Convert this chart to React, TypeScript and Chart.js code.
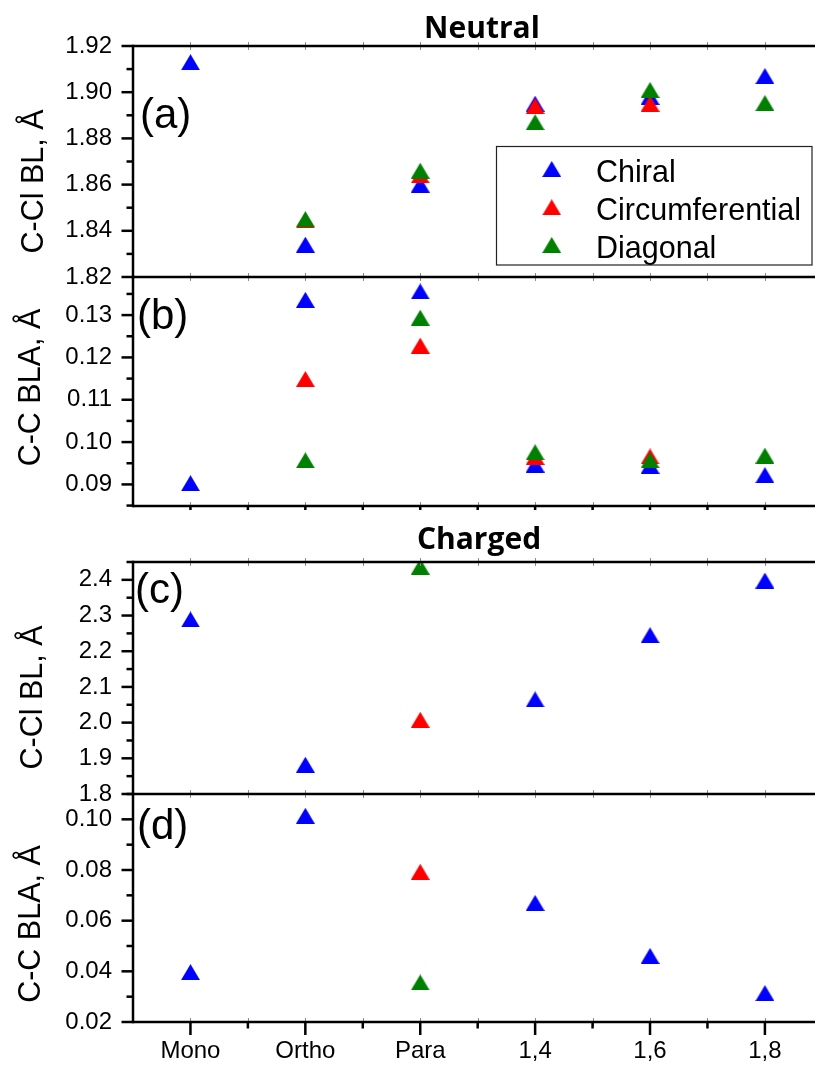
import React, { useEffect, useRef } from 'react';
import { Chart, registerables } from 'chart.js';

Chart.register(...registerables);

const FONT = '"Liberation Sans", Arial, Helvetica, sans-serif';
const TITLE_FONT = '"Open Sans", "Noto Sans", sans-serif';

// ---------- data ----------
const categories = ['Mono', 'Ortho', 'Para', '1,4', '1,6', '1,8'];
const seriesNames = ['Chiral', 'Circumferential', 'Diagonal'];

// (a) Neutral, C-Cl BL (Å)
const aChiral = [1.913, 1.834, 1.860, 1.895, 1.898, 1.907];
const aCircum = [null, 1.8445, 1.864, 1.894, 1.895, null];
const aDiag = [null, 1.845, 1.866, 1.887, 1.901, 1.8953];

// (b) Neutral, C-C BLA (Å)
const bChiral = [0.0903, 0.1336, 0.1356, 0.0947, 0.0944, 0.0922];
const bCircum = [null, 0.1149, 0.1228, 0.0965, 0.0966, null];
const bDiag = [null, 0.0957, 0.1294, 0.0976, 0.0957, 0.0968];

// (c) Charged, C-Cl BL (Å)
const cChiral = [2.289, 1.882, null, 2.065, 2.245, 2.398];
const cCircum = [null, null, 2.008, null, null, null];
const cDiag = [null, null, 2.437, null, null, null];

// (d) Charged, C-C BLA (Å)
const dChiral = [0.0397, 0.1014, null, 0.067, 0.0461, 0.0314];
const dCircum = [null, null, 0.0793, null, null, null];
const dDiag = [null, null, 0.0356, null, null, null];

// tick labels
const aTicks = [1.82, 1.84, 1.86, 1.88, 1.9, 1.92];
const bTicks = [0.09, 0.1, 0.11, 0.12, 0.13];
const cTicks = [1.8, 1.9, 2.0, 2.1, 2.2, 2.3, 2.4];
const dTicks = [0.02, 0.04, 0.06, 0.08, 0.1];

// ---------- styles / layout ----------
const seriesColors = ['#0000FF', '#FF0000', '#008000'];
const seriesOrder = [3, 2, 1];
const W = 815;
const H = 1066;
const X_MIN = -0.5;
const X_MAX = 5.436;

type Panel = {
  id: string;
  series: (number | null)[][];
  yMin: number;
  yMax: number;
  majors: number[];
  decimals: number;
  top: number;
  bottom: number;
  label: string;
  labelX: number;
  labelY: number;
  yTitle: string;
  titleX: number;
  titleY: number;
  bottomLine: boolean;
  bottomSmallTicks: boolean;
  xLabels: boolean;
  legend: boolean;
  section: { text: string; x: number; y: number } | null;
};

const panels: Panel[] = [
  {
    id: 'a', series: [aChiral, aCircum, aDiag], yMin: 1.82, yMax: 1.92, majors: aTicks, decimals: 2,
    top: 46, bottom: 277, label: '(a)', labelX: 140, labelY: 128,
    yTitle: 'C-Cl BL, Å', titleX: 43, titleY: 181.5,
    bottomLine: false, bottomSmallTicks: false, xLabels: false, legend: true,
    section: { text: 'Neutral', x: 482, y: 38 },
  },
  {
    id: 'b', series: [bChiral, bCircum, bDiag], yMin: 0.0849, yMax: 0.139, majors: bTicks, decimals: 2,
    top: 277, bottom: 506, label: '(b)', labelX: 137, labelY: 329,
    yTitle: 'C-C BLA, Å', titleX: 39.5, titleY: 387.5,
    bottomLine: true, bottomSmallTicks: true, xLabels: false, legend: false,
    section: null,
  },
  {
    id: 'c', series: [cChiral, cCircum, cDiag], yMin: 1.8, yMax: 2.45, majors: cTicks, decimals: 1,
    top: 562, bottom: 794, label: '(c)', labelX: 135, labelY: 603,
    yTitle: 'C-Cl BL, Å', titleX: 42, titleY: 697.5,
    bottomLine: false, bottomSmallTicks: false, xLabels: false, legend: false,
    section: { text: 'Charged', x: 479, y: 549 },
  },
  {
    id: 'd', series: [dChiral, dCircum, dDiag], yMin: 0.02, yMax: 0.11, majors: dTicks, decimals: 2,
    top: 794, bottom: 1022, label: '(d)', labelX: 137, labelY: 839,
    yTitle: 'C-C BLA, Å', titleX: 39.5, titleY: 924,
    bottomLine: true, bottomSmallTicks: false, xLabels: true, legend: false,
    section: null,
  },
];

function makeTriangle(color: string): HTMLCanvasElement {
  const w = 19;
  const h = 16;
  const c = document.createElement('canvas');
  c.width = w;
  c.height = h;
  const g = c.getContext('2d')!;
  g.fillStyle = color;
  g.beginPath();
  g.moveTo(w / 2, 0);
  g.lineTo(w, h);
  g.lineTo(0, h);
  g.closePath();
  g.fill();
  return c;
}

function minorTicks(majors: number[], min: number, max: number): number[] {
  const step = majors[1] - majors[0];
  const out: number[] = [];
  for (let v = majors[0] - step / 2; v <= max + 1e-9; v += step) {
    if (v >= min - 1e-9) out.push(v);
  }
  return out;
}

function seg(ctx: CanvasRenderingContext2D, x1: number, y1: number, x2: number, y2: number) {
  ctx.beginPath();
  ctx.moveTo(x1, y1);
  ctx.lineTo(x2, y2);
  ctx.stroke();
}

function buildChart(canvas: HTMLCanvasElement, p: Panel, tris: HTMLCanvasElement[]) {
  const minors = minorTicks(p.majors, p.yMin, p.yMax);
  const deco = {
    id: 'deco_' + p.id,
    afterDraw(chart: any) {
      const ctx: CanvasRenderingContext2D = chart.ctx;
      const { left, right, top, bottom } = chart.chartArea;
      const xs = chart.scales.x;
      const ys = chart.scales.y;
      ctx.save();
      // tiny gray ticks on horizontal frame lines
      ctx.strokeStyle = '#8c8c8c';
      ctx.lineWidth = 1;
      for (let k = 0; k <= 10; k++) {
        const px = Math.round(xs.getPixelForValue(k * 0.5)) + 0.5;
        if (px > right) continue;
        seg(ctx, px, top - 4, px, top + 4);
        seg(ctx, px, bottom - 4, px, bottom + 4);
      }
      ctx.strokeStyle = '#000';
      ctx.lineWidth = 2.5;
      ctx.lineCap = 'butt';
      for (const v of p.majors) {
        const py = ys.getPixelForValue(v);
        seg(ctx, left - 11.5, py, left, py);
      }
      for (const v of minors) {
        const py = ys.getPixelForValue(v);
        seg(ctx, left - 6.5, py, left, py);
      }
      seg(ctx, left, top - 1.25, left, bottom + 1.25);
      seg(ctx, left, top, right, top);
      if (p.bottomLine) seg(ctx, left, bottom, right, bottom);
      if (p.xLabels) {
        for (let k = 0; k <= 10; k++) {
          const px = xs.getPixelForValue(k * 0.5);
          seg(ctx, px, bottom, px, bottom + (k % 2 === 0 ? 13 : 6.5));
        }
      }
      if (p.bottomSmallTicks) {
        for (let k = 0; k <= 10; k++) {
          const px = xs.getPixelForValue(k * 0.5);
          seg(ctx, px, bottom, px, bottom + 4);
        }
      }
      ctx.fillStyle = '#000';
      ctx.font = `42px ${FONT}`;
      ctx.textAlign = 'left';
      ctx.textBaseline = 'alphabetic';
      ctx.fillText(p.label, p.labelX, p.labelY);

      ctx.save();
      ctx.translate(p.titleX, p.titleY);
      ctx.rotate(-Math.PI / 2);
      ctx.font = `30.5px ${FONT}`;
      ctx.textAlign = 'center';
      ctx.fillText(p.yTitle, 0, 0);
      ctx.restore();

      if (p.section) {
        ctx.font = `bold 30px ${TITLE_FONT}`;
        ctx.textAlign = 'center';
        ctx.fillText(p.section.text, p.section.x, p.section.y);
      }

      if (p.legend) {
        ctx.lineWidth = 1.2;
        ctx.strokeStyle = '#222';
        ctx.strokeRect(496.5, 146.5, 315.5, 118.5);
        const baseY = [181.5, 219.8, 257.6];
        const markY = [169, 207.3, 245];
        ctx.font = `30.5px ${FONT}`;
        ctx.textAlign = 'left';
        for (let i = 0; i < seriesNames.length; i++) {
          const t = tris[i];
          ctx.drawImage(t, 551.7 - t.width / 2, markY[i] - t.height / 2);
          ctx.fillText(seriesNames[i], 596, baseY[i]);
        }
      }
      ctx.restore();
    },
  };

  const datasets = p.series.map((arr, si) => ({
    label: seriesNames[si],
    data: arr.flatMap((v, i) => (v == null ? [] : [{ x: i, y: v }])),
    pointStyle: tris[si],
    pointRadius: 9,
    pointHoverRadius: 9,
    backgroundColor: seriesColors[si],
    borderColor: seriesColors[si],
    borderWidth: 0,
    showLine: false,
    order: seriesOrder[si],
    clip: 0,
  }));

  return new Chart(canvas, {
    type: 'scatter',
    data: { datasets },
    plugins: [deco],
    options: {
      responsive: false,
      animation: false,
      events: [],
      layout: {
        autoPadding: false,
        padding: { top: p.top, bottom: p.xLabels ? 0 : H - p.bottom, left: 0, right: 0 },
      },
      plugins: { legend: { display: false }, tooltip: { enabled: false }, title: { display: false } },
      scales: {
        x: {
          type: 'linear',
          position: 'bottom',
          min: X_MIN,
          max: X_MAX,
          display: p.xLabels,
          grid: { display: false, drawTicks: true, tickLength: 15 },
          border: { display: false },
          afterBuildTicks: (s: any) => {
            s.ticks = categories.map((_, i) => ({ value: i }));
          },
          afterFit: (s: any) => {
            if (p.xLabels) s.height = H - p.bottom;
          },
          ticks: {
            autoSkip: false,
            maxRotation: 0,
            minRotation: 0,
            padding: 0,
            color: '#000',
            font: { family: FONT, size: 24 },
            callback: (v: any) => categories[Math.round(Number(v))] ?? '',
          },
        },
        y: {
          type: 'linear',
          position: 'left',
          min: p.yMin,
          max: p.yMax,
          grid: { display: false, drawTicks: false },
          border: { display: false },
          afterBuildTicks: (s: any) => {
            s.ticks = p.majors.map((v) => ({ value: v }));
          },
          afterFit: (s: any) => {
            s.width = 133;
          },
          ticks: {
            autoSkip: false,
            padding: 21,
            color: '#000',
            font: { family: FONT, size: 24 },
            callback: (v: any) => Number(v).toFixed(p.decimals),
          },
        },
      },
    },
  } as any);
}

export default function App() {
  const r0 = useRef<HTMLCanvasElement>(null);
  const r1 = useRef<HTMLCanvasElement>(null);
  const r2 = useRef<HTMLCanvasElement>(null);
  const r3 = useRef<HTMLCanvasElement>(null);
  const refs = [r0, r1, r2, r3];

  useEffect(() => {
    const tris = seriesColors.map(makeTriangle);
    const charts = panels.map((p, i) => buildChart(refs[i].current as HTMLCanvasElement, p, tris));
    return () => {
      charts.forEach((c) => c.destroy());
    };
  }, []);

  return (
    <div style={{ position: 'absolute', left: 0, top: 0, width: W, height: H, background: '#fff' }}>
      {panels.map((p, i) => (
        <canvas
          key={p.id}
          ref={refs[i]}
          width={W}
          height={H}
          style={{ position: 'absolute', left: 0, top: 0 }}
        />
      ))}
    </div>
  );
}
